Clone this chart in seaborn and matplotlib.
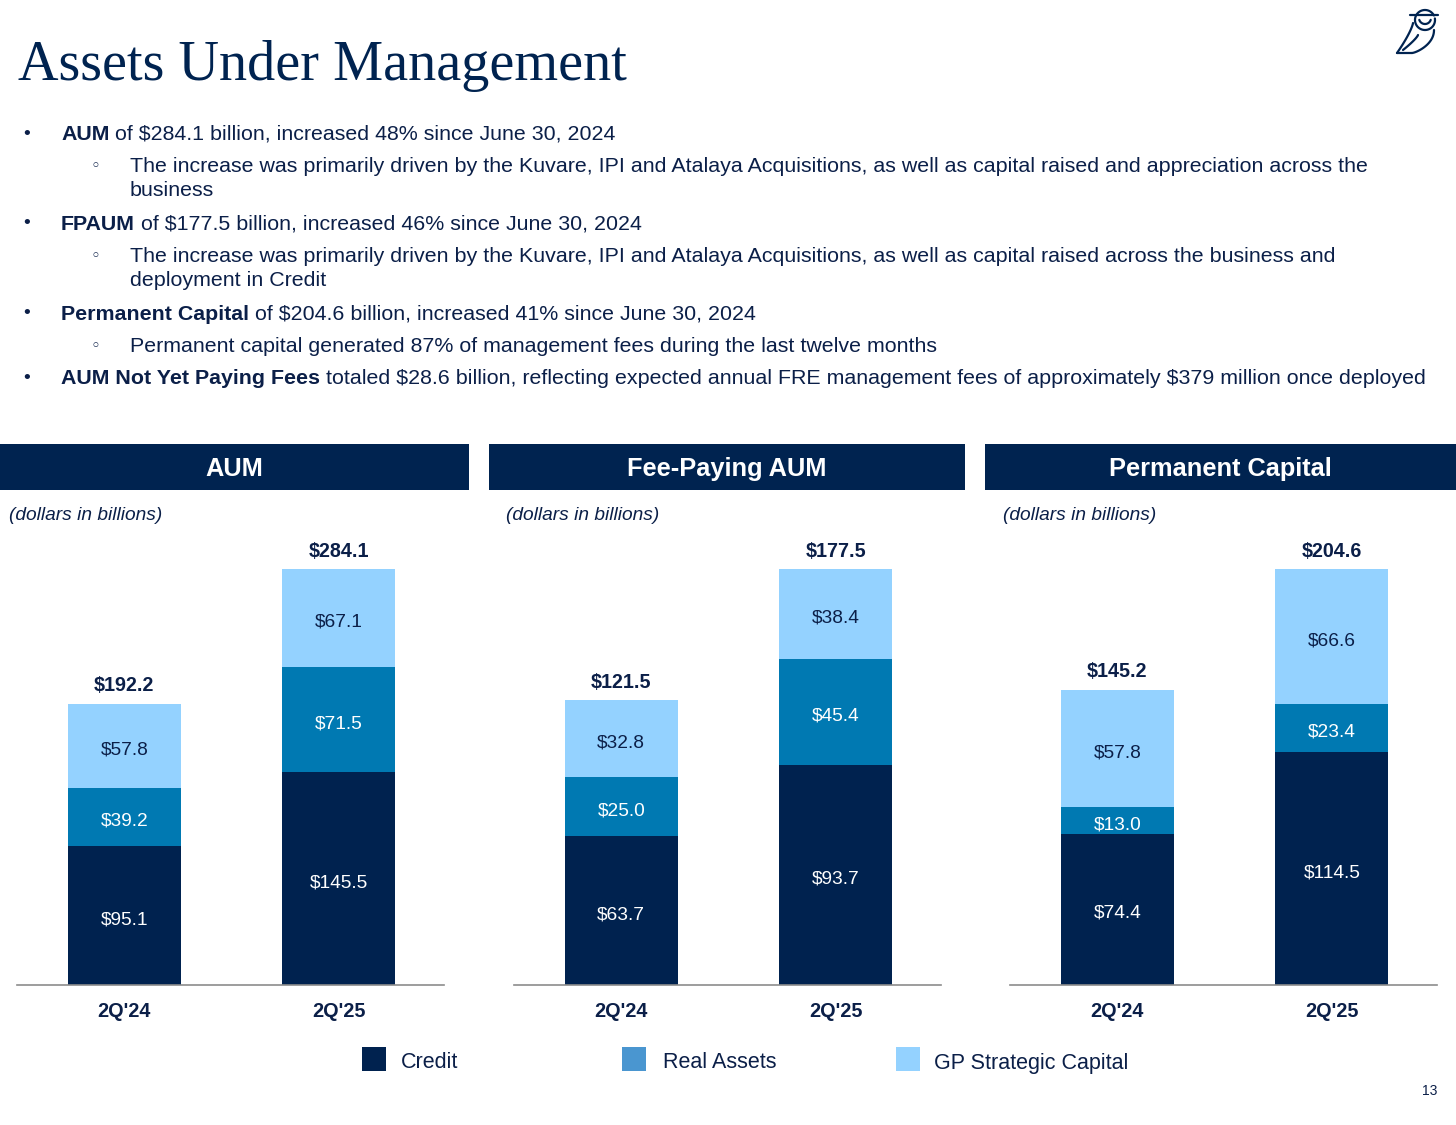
import matplotlib
matplotlib.use("Agg")
import matplotlib.pyplot as plt
import matplotlib.patches as mpatches
import numpy as np
import pandas as pd
import seaborn as sns

# ---------------- data ----------------
periods = ["2Q'24", "2Q'25"]
panel_titles = ["AUM", "Fee-Paying AUM", "Permanent Capital"]
credit = [[95.1, 145.5], [63.7, 93.7], [74.4, 114.5]]
real_assets = [[39.2, 71.5], [25.0, 45.4], [13.0, 23.4]]
gp_strategic = [[57.8, 67.1], [32.8, 38.4], [57.8, 66.6]]
totals = [[192.2, 284.1], [121.5, 177.5], [145.2, 204.6]]
series_names = ["Credit", "Real Assets", "GP Strategic Capital"]

bullets = [
    (0, "AUM", " of $284.1 billion, increased 48% since June 30, 2024"),
    (1, "", "The increase was primarily driven by the Kuvare, IPI and Atalaya Acquisitions, as well as capital raised and appreciation across the"),
    (2, "", "business"),
    (0, "FPAUM", " of $177.5 billion, increased 46% since June 30, 2024"),
    (1, "", "The increase was primarily driven by the Kuvare, IPI and Atalaya Acquisitions, as well as capital raised across the business and"),
    (2, "", "deployment in Credit"),
    (0, "Permanent Capital", " of $204.6 billion, increased 41% since June 30, 2024"),
    (1, "", "Permanent capital generated 87% of management fees during the last twelve months"),
    (0, "AUM Not Yet Paying Fees", " totaled $28.6 billion, reflecting expected annual FRE management fees of approximately $379 million once deployed"),
]
bullet_y = [134, 166, 191, 224, 256, 281, 314, 346, 378]

# ---------------- style ----------------
DARK = "#00224F"
MID = "#0079B2"
LIGHT = "#94D2FF"
LEG_MID = "#4A96D0"
NAVY = "#002350"
TXT = "#0B1F48"
SANS = ["Liberation Sans", "DejaVu Sans"]

sns.set_theme(style="white")
plt.rcParams["font.family"] = SANS

W, H = 1456, 1125
fig = plt.figure(figsize=(W / 100, H / 100), dpi=100)
fig.patch.set_facecolor("white")


def fx(x):
    return x / W


def fy(y):
    return 1 - y / H


# Title
fig.text(fx(18), fy(66), "Assets Under Management", family=["Liberation Serif", "DejaVu Serif"],
         fontsize=40.5, color=NAVY, va="center", ha="left")

# Bullets
BODY = 15.4
renderer = fig.canvas.get_renderer()
for (lvl, bold, rest), y in zip(bullets, bullet_y):
    if lvl == 0:
        fig.text(fx(27), fy(y), "•", fontsize=14, color=TXT, va="center", ha="center", family=SANS)
        t = fig.text(fx(61), fy(y), bold, fontsize=BODY, fontweight="bold", color=TXT,
                     va="center", ha="left", parse_math=False)
        bb = t.get_window_extent(renderer)
        fig.text(bb.x1 / W, fy(y), rest, fontsize=BODY, color=TXT, va="center", ha="left",
                 parse_math=False)
    else:
        if lvl == 1:
            fig.text(fx(95), fy(y), "◦", fontsize=12, color=TXT, va="center", ha="center",
                     family=["DejaVu Sans"])
        fig.text(fx(130), fy(y), rest, fontsize=BODY, color=TXT, va="center", ha="left",
                 parse_math=False)

# Panels
band_x = [(0, 469), (489, 965), (985, 1456)]
ax_left = [17, 514, 1010]
ax_w = 427
ax_bottom_px, ax_top_px = 985, 540
sub_x = [9, 506, 1003]
fill_frac = 416 / 445

for i in range(3):
    x0, x1 = band_x[i]
    fig.patches.append(mpatches.Rectangle((fx(x0), fy(490)), (x1 - x0) / W, 46 / H,
                                          transform=fig.transFigure, facecolor=NAVY, edgecolor="none"))
    fig.text(fx((x0 + x1) / 2), fy(469), panel_titles[i], fontsize=18.3, fontweight="bold",
             color="white", ha="center", va="center")
    fig.text(fx(sub_x[i]), fy(515), "(dollars in billions)", fontsize=13.8, style="italic",
             color=TXT, ha="left", va="center")

    ax = fig.add_axes([fx(ax_left[i]), fy(ax_bottom_px), ax_w / W, (ax_bottom_px - ax_top_px) / H])
    c = np.array(credit[i])
    r = np.array(real_assets[i])
    g = np.array(gp_strategic[i])
    df = pd.DataFrame({"period": periods, "top": c + r + g, "mid": c + r, "bot": c})
    for col, color in [("top", LIGHT), ("mid", MID), ("bot", DARK)]:
        sns.barplot(data=df, x="period", y=col, color=color, saturation=1, width=0.527,
                    errorbar=None, ax=ax, linewidth=0)
    ymax = max(c + r + g) / fill_frac
    ax.set_ylim(0, ymax)
    ax.set_xlim(-0.5, 1.49)
    ax.set_xlabel("")
    ax.set_ylabel("")
    ax.set_yticks([])
    ax.tick_params(axis="x", length=0, pad=12, labelsize=14.3, colors=TXT)
    for lab in ax.get_xticklabels():
        lab.set_fontweight("bold")
    for s in ["top", "left", "right"]:
        ax.spines[s].set_visible(False)
    ax.spines["bottom"].set_color("#8C8C8C")
    ax.spines["bottom"].set_linewidth(1.2)
    ax.set_facecolor("none")

    for j in range(2):
        kw = dict(ha="center", va="center", fontsize=13.8, parse_math=False,
                  textcoords="offset points", xytext=(0, -3))
        ax.annotate(f"${c[j]:.1f}", (j, c[j] / 2), color="white", **kw)
        ax.annotate(f"${r[j]:.1f}", (j, c[j] + r[j] / 2), color="white", **kw)
        ax.annotate(f"${g[j]:.1f}", (j, c[j] + r[j] + g[j] / 2), color=TXT, **kw)
        ax.annotate(f"${totals[i][j]:.1f}", (j, c[j] + r[j] + g[j]), xytext=(0, 6),
                    textcoords="offset points", ha="center", va="bottom", fontsize=14.2,
                    fontweight="bold", color=TXT, parse_math=False)

# Legend
leg_sq = [362, 622, 896]
leg_tx = [401, 663, 934]
leg_col = [DARK, LEG_MID, LIGHT]
for k in range(3):
    fig.patches.append(mpatches.Rectangle((fx(leg_sq[k]), fy(1071)), 24 / W, 24 / H,
                                          transform=fig.transFigure, facecolor=leg_col[k], edgecolor="none"))
    fig.text(fx(leg_tx[k]), fy(1063), series_names[k], fontsize=15.5, color=TXT, ha="left", va="center")

# Page number
fig.text(fx(1430), fy(1091), "13", fontsize=10, color=TXT, ha="center", va="center")

# Simple owl logo
lax = fig.add_axes([fx(1392), fy(56), 50 / W, 50 / H])
lax.set_xlim(0, 1)
lax.set_ylim(0, 1)
lax.axis("off")
lw = 1.6
th = np.linspace(0.15 * np.pi, 2.05 * np.pi, 100)
lax.plot(0.66 + 0.2 * np.cos(th), 0.72 + 0.2 * np.sin(th), color=NAVY, lw=lw)
lax.plot([0.36, 0.92], [0.82, 0.82], color=NAVY, lw=lw)
t2 = np.linspace(0, 1, 60)
ph = np.linspace(1.1 * np.pi, 1.9 * np.pi, 40)
lax.plot(0.66 + 0.12 * np.cos(ph), 0.76 + 0.12 * np.sin(ph), color=NAVY, lw=lw)
lax.plot(0.42 - 0.32 * t2 ** 1.3, 0.66 - 0.6 * t2, color=NAVY, lw=lw)
lax.plot(0.1 + 0.3 * t2, 0.06 + 0.0 * t2, color=NAVY, lw=lw)
lax.plot(0.4 + 0.44 * np.sin(np.pi / 2 * t2), 0.06 + 0.46 * t2 ** 1.4, color=NAVY, lw=lw)
lax.plot(0.52 - 0.3 * t2, 0.42 - 0.3 * t2 ** 0.8, color=NAVY, lw=lw)

fig.savefig("out.png", dpi=100, facecolor="white")
